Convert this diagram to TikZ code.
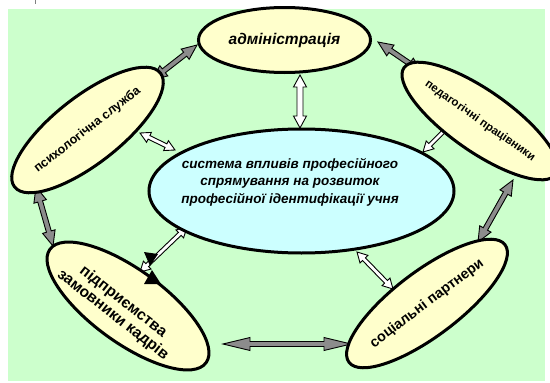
\documentclass[tikz,border=0pt]{standalone}
\usepackage{fontspec}
\setmainfont{Liberation Sans}
\IfFontExistsTF{Noto Sans Black}{%
  \newfontfamily\hvb[Scale=0.85]{Noto Sans Black}%
  \IfFontExistsTF{Noto Sans Black Italic}{\newfontfamily\hvbi[Scale=0.85]{Noto Sans Black Italic}}%
    {\newfontfamily\hvbi[Scale=0.85,FakeSlant=0.2]{Noto Sans Black}}%
}{%
  \IfFontExistsTF{Open Sans ExtraBold}{%
    \newfontfamily\hvb[Scale=0.85]{Open Sans ExtraBold}%
    \newfontfamily\hvbi[Scale=0.85,FakeSlant=0.2]{Open Sans ExtraBold}%
  }{%
    \newfontfamily\hvb{Liberation Sans Bold}%
    \newfontfamily\hvbi{Liberation Sans Bold Italic}%
  }%
}
\usetikzlibrary{calc,shapes.geometric}
\definecolor{bggreen}{HTML}{CCFFCC}
\definecolor{ylw}{HTML}{FFFFCC}
\definecolor{cyn}{HTML}{CCFFFF}
\definecolor{arrgray}{HTML}{8C8C8C}
\newcommand\dblarrow[6]{%
  \draw[#1] let \p1=($(#3)-(#2)$), \n1={atan2(\y1,\x1)}, \n2={\n1+90} in
    (#2) -- ($(#2)+(\n1:#6)+(\n2:#5)$) -- ($(#2)+(\n1:#6)+(\n2:#4)$)
    -- ($(#3)+(\n1:-#6)+(\n2:#4)$) -- ($(#3)+(\n1:-#6)+(\n2:#5)$) -- (#3)
    -- ($(#3)+(\n1:-#6)+(\n2:-#5)$) -- ($(#3)+(\n1:-#6)+(\n2:-#4)$)
    -- ($(#2)+(\n1:#6)+(\n2:-#4)$) -- ($(#2)+(\n1:#6)+(\n2:-#5)$) -- cycle;}
\begin{document}
\begin{tikzpicture}[x=1pt,y=1pt,
  ell/.style={ellipse, draw=black, line width=3pt, inner sep=0pt, fill=ylw, align=center},
  grayarr/.style={draw=black, line width=0.9pt, fill=arrgray, line join=miter},
  whitearr/.style={draw=black, line width=0.9pt, fill=white, line join=miter},
  txt/.style={align=center, inner sep=0pt}]
\useasboundingbox (0,0) rectangle (550,-383);
\fill[bggreen] (7.5,-9) rectangle (545,-381);
\draw[gray, line width=0.6pt] (35,0) -- (35,-4);
% arrow end points
\coordinate (g1a) at (152,-80);  \coordinate (g1b) at (197,-45);
\coordinate (g2a) at (378,-42);  \coordinate (g2b) at (422,-72);
\coordinate (g3a) at (513,-180); \coordinate (g3b) at (478,-242);
\coordinate (g4a) at (223,-344); \coordinate (g4b) at (351,-344);
\coordinate (g5a) at (36,-187);  \coordinate (g5b) at (53,-246);
\coordinate (w1a) at (300,-75);  \coordinate (w1b) at (300,-128);
\coordinate (w2a) at (140,-133); \coordinate (w2b) at (175,-150);
\coordinate (w3a) at (452,-123); \coordinate (w3b) at (423,-152);
\coordinate (w4a) at (140,-272); \coordinate (w4b) at (187,-227);
\coordinate (w5a) at (357,-252); \coordinate (w5b) at (393,-289);
\dblarrow{grayarr}{g1a}{g1b}{2.5}{6.5}{15}
\dblarrow{grayarr}{g2a}{g2b}{2.5}{6.5}{15}
\dblarrow{grayarr}{g3a}{g3b}{2.5}{6.5}{15}
\dblarrow{grayarr}{g4a}{g4b}{2.5}{6.5}{27}
\dblarrow{grayarr}{g5a}{g5b}{2.5}{6.5}{15}
\dblarrow{whitearr}{w1a}{w1b}{3}{6.5}{12}
\dblarrow{whitearr}{w2a}{w2b}{2}{5.5}{10}
\dblarrow{whitearr}{w3a}{w3b}{2}{5.5}{10}
\dblarrow{whitearr}{w4a}{w4b}{2}{5.5}{10}
\dblarrow{whitearr}{w5a}{w5b}{2}{5.5}{10}
% ellipses
\node[ell, fill=cyn, minimum width=305pt, minimum height=124pt] (central) at (301.5,-191) {};
\node[txt, font={\hvbi\fontsize{13.5}{17.5}\selectfont}] (centraltext) at (290,-182)
  {система впливів професійного\\спрямування на розвиток\\професійної ідентифікації учня};
\node[ell, minimum width=172pt, minimum height=65pt, font={\hvbi\fontsize{15.5}{19}\selectfont}] (admin) at (284.5,-40) {адміністрація};
\node[ell, rotate=38, minimum width=165pt, minimum height=67pt, font={\hvb\fontsize{12.5}{15}\selectfont}] (psych) at (87.5,-130) {психологічна служба};
\node[ell, rotate=-35, minimum width=159pt, minimum height=61pt, font={\hvb\fontsize{11.5}{14}\selectfont}] (ped) at (480,-121) {педагогічні працівники};
\node[ell, rotate=37, minimum width=177pt, minimum height=65pt, font={\hvb\fontsize{14.3}{17}\selectfont}] (social) at (427,-303.5) {соціальні партнери};
\node[ell, rotate=-36, minimum width=193pt, minimum height=73pt] (enterprise) at (128,-306) {};
\node[txt, rotate=-38, font={\hvb\fontsize{15.5}{16.7}\selectfont}] (enterprisetext) at (118,-308.5)
  {підприємства\\замовники кадрів};
% black marks near the lower-left connector
\fill[black] (144,-252) -- (158,-254) -- (150,-266) -- cycle;
\fill[black] (152,-270) -- (144,-284) -- (161,-284) -- cycle;
\end{tikzpicture}
\end{document}
